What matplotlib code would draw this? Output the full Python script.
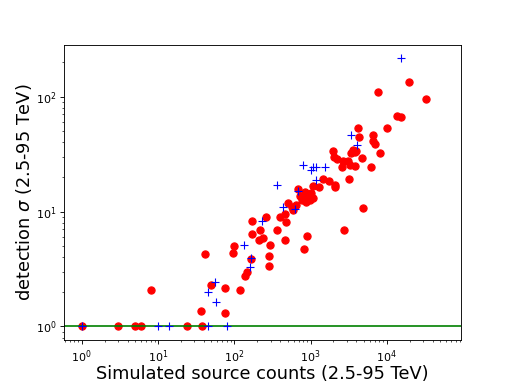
import matplotlib
matplotlib.use("Agg")
import matplotlib.pyplot as plt

# red circles: simulated counts vs detection sigma
red_counts = [1, 3, 5, 6, 24, 37.4,
              8.0, 41.3, 36.3, 49.5, 75.5, 75.5, 97, 100, 119, 139, 145, 166,
              173, 172, 219, 209, 240, 258, 294, 284, 284, 359, 398, 462, 483,
              510, 593, 905, 815, 462,
              694, 724, 764, 803, 871, 933, 982, 1085, 1085, 1300, 1468, 1750,
              2090, 2090, 845, 1010, 644, 570,
              1950, 2045, 2200, 2690, 3120, 2580, 3280, 3210, 3390, 3560, 3820,
              3940, 3820, 4220, 4350, 4680, 4850, 6640, 6530, 6980, 8150, 6130,
              7710, 9940, 13700, 15300, 19300, 32800, 2740]
red_sigma = [1, 1, 1, 1, 1, 1,
             2.07, 4.26, 1.37, 2.29, 2.14, 1.32, 4.35, 5.0, 2.08, 2.74, 3.0, 3.9,
             8.22, 6.33, 6.84, 5.67, 5.87, 9.05, 5.1, 4.1, 3.39, 6.93, 9.0, 9.46, 8.19,
             11.8, 10.3, 6.07, 4.68, 5.6,
             15.6, 13.7, 12.6, 13.5, 12.2, 14.0, 12.6, 13.1, 16.7, 16.2, 19.3, 18.4,
             17.1, 16.2, 14.8, 14.5, 11.4, 11.0,
             33.3, 30.1, 28.5, 27.4, 27.8, 24.3, 25.5, 19.1, 32.2, 34.4, 32.9,
             33.9, 25.0, 53.1, 44.4, 29.1, 10.75, 46.4, 41.4, 38.8, 32.6, 24.6,
             109, 53.5, 67.9, 67.0, 133, 94.9, 6.84]

# blue pluses
blue_counts = [1, 10, 14, 45.7, 80,
               45.7, 55.3, 57.6, 133, 161, 166, 231, 366, 439, 630, 678,
               803, 1000, 1065, 1167, 1560, 1167, 3350, 4090, 15300]
blue_sigma = [1, 1, 1, 1, 1,
              2.0, 2.46, 1.63, 5.13, 3.32, 3.98, 8.3, 17.0, 10.9, 10.5, 15.1,
              25.5, 23.0, 24.6, 24.3, 24.6, 18.9, 46.4, 38.0, 216]

threshold = 1.0

fig = plt.figure(figsize=(6.4, 4.7875), dpi=80)
ax = fig.add_axes([0.1256, 0.111, 0.7748, 0.7723])
ax.plot(red_counts, red_sigma, 'o', color='red', markersize=6.5, linestyle='none')
ax.axhline(threshold, color='green', linewidth=1.5)
ax.plot(blue_counts, blue_sigma, '+', color='blue', markersize=6.5, linestyle='none')
ax.set_xscale('log')
ax.set_yscale('log')
ax.set_xlim(0.59, 9.4e4)
ax.set_ylim(0.755, 283)
ax.set_xlabel('Simulated source counts (2.5-95 TeV)', fontsize=16, labelpad=0.5)
ax.set_ylabel(r'detection $\sigma$ (2.5-95 TeV)', fontsize=16, labelpad=2)
fig.savefig('out.png', dpi=80)
